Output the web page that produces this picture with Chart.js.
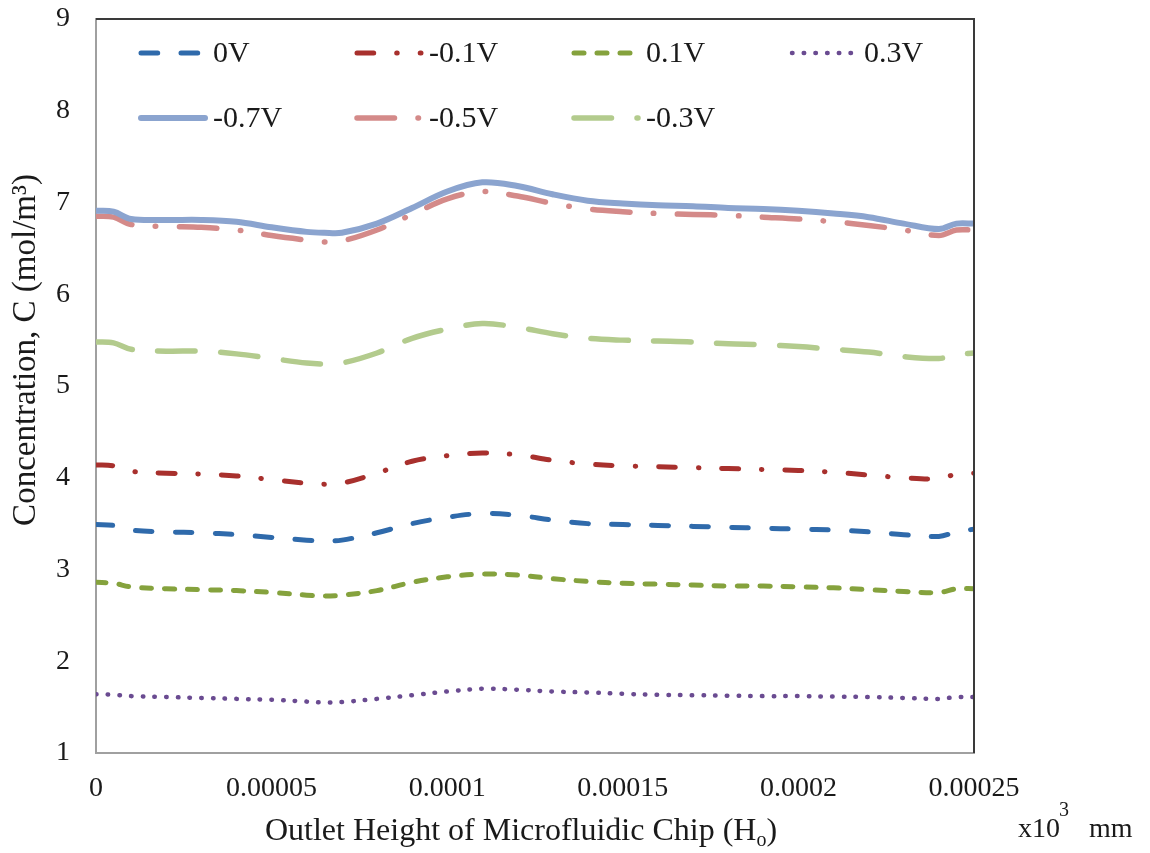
<!DOCTYPE html>
<html lang="en">
<head>
    <meta charset="UTF-8">
    <title>Concentration vs Outlet Height</title>
    <script src="https://cdn.jsdelivr.net/npm/chart.js"></script>
    <style>
        body { margin: 0; background: #fff; }
        canvas { display: block; }
    </style>
</head>
<body>
    <canvas id="chart" width="1150" height="853"></canvas>
    <script>
        // --- Data ---
        const xValues = [0, 0.000005, 0.00001, 0.00002, 0.00003, 0.00004, 0.00005, 0.00006, 0.000065, 0.00007,
            0.00008, 0.00009, 0.0001, 0.00011, 0.00012, 0.00013, 0.00014, 0.00015, 0.00016, 0.00017,
            0.00018, 0.00019, 0.0002, 0.00021, 0.00022, 0.00023, 0.00024, 0.000245, 0.00025];

        const v0 = [3.49, 3.48, 3.43, 3.41, 3.40, 3.38, 3.35, 3.32, 3.31, 3.32,
            3.40, 3.50, 3.57, 3.61, 3.59, 3.54, 3.50, 3.49, 3.48, 3.47,
            3.46, 3.45, 3.44, 3.43, 3.41, 3.38, 3.36, 3.41, 3.44];
        const vNeg01 = [4.14, 4.13, 4.07, 4.05, 4.04, 4.02, 3.98, 3.94, 3.93, 3.94,
            4.05, 4.18, 4.24, 4.27, 4.25, 4.19, 4.15, 4.13, 4.12, 4.11,
            4.10, 4.09, 4.08, 4.06, 4.03, 4.00, 3.99, 4.04, 4.05];
        const vPos01 = [2.86, 2.85, 2.81, 2.79, 2.78, 2.77, 2.75, 2.72, 2.71, 2.72,
            2.77, 2.86, 2.92, 2.95, 2.94, 2.90, 2.87, 2.85, 2.84, 2.83,
            2.82, 2.82, 2.81, 2.80, 2.78, 2.76, 2.75, 2.79, 2.79];
        const vPos03 = [1.64, 1.635, 1.62, 1.61, 1.60, 1.59, 1.58, 1.56, 1.55, 1.555,
            1.59, 1.63, 1.67, 1.70, 1.69, 1.67, 1.66, 1.645, 1.635, 1.63,
            1.625, 1.62, 1.62, 1.615, 1.61, 1.60, 1.59, 1.61, 1.61];
        const vNeg07 = [6.91, 6.90, 6.82, 6.81, 6.81, 6.79, 6.73, 6.68, 6.67, 6.67,
            6.77, 6.94, 7.12, 7.22, 7.18, 7.09, 7.02, 6.99, 6.97, 6.96,
            6.94, 6.93, 6.91, 6.88, 6.84, 6.77, 6.71, 6.77, 6.77];
        const vNeg05 = [6.85, 6.84, 6.76, 6.74, 6.73, 6.70, 6.64, 6.59, 6.57, 6.58,
            6.70, 6.87, 7.04, 7.12, 7.07, 6.99, 6.93, 6.90, 6.88, 6.87,
            6.86, 6.84, 6.82, 6.79, 6.75, 6.70, 6.64, 6.70, 6.70];
        const vNeg03 = [5.48, 5.47, 5.40, 5.38, 5.38, 5.35, 5.30, 5.25, 5.24, 5.25,
            5.36, 5.52, 5.62, 5.68, 5.64, 5.57, 5.52, 5.50, 5.49, 5.48,
            5.46, 5.45, 5.43, 5.40, 5.37, 5.32, 5.30, 5.34, 5.36];

        const xTickLabels = ['0', '0.00005', '0.0001', '0.00015', '0.0002', '0.00025'];
        const yTickLabels = ['1', '2', '3', '4', '5', '6', '7', '8', '9'];

        const FONT = "'Liberation Serif', 'Times New Roman', serif";
        const TEXT = '#1a1a1a';

        function pts(arr) {
            return xValues.map((x, i) => ({ x: x, y: arr[i] }));
        }

        function series(label, arr, color, width, dash) {
            return {
                label: label,
                data: pts(arr),
                borderColor: color,
                backgroundColor: color,
                borderWidth: width,
                borderDash: dash,
                borderCapStyle: 'round',
                borderJoinStyle: 'round',
                pointRadius: 0,
                tension: 0.35,
                fill: false
            };
        }

        // order matters for legend placement (row by row)
        const datasets = [
            series('0V', v0, '#2f6aab', 5, [16.7, 23.3]),
            series('-0.1V', vNeg01, '#a8302d', 5, [16.7, 23, 0.5, 23]),
            series('0.1V', vPos01, '#85a23d', 5, [10, 13]),
            series('0.3V', vPos03, '#6a4b91', 4.5, [0.5, 11.2]),
            series('-0.7V', vNeg07, '#8ba4cf', 6, []),
            series('-0.5V', vNeg05, '#d48a89', 5.5, [37.5, 23.5, 0.5, 23.5]),
            series('-0.3V', vNeg03, '#b3cb8d', 5.5, [37.5, 25.5])
        ];

        // --- Legend drawn in a fixed 4-column grid ---
        const legendCols = [138, 354, 571, 789];
        const legendRows = [53, 118];
        const legendPlugin = {
            id: 'gridLegend',
            afterDraw(chart) {
                const ctx = chart.ctx;
                chart.data.datasets.forEach((ds, i) => {
                    const x0 = legendCols[i % 4];
                    const y = legendRows[Math.floor(i / 4)];
                    ctx.save();
                    ctx.strokeStyle = ds.borderColor;
                    ctx.lineWidth = ds.borderWidth;
                    ctx.lineCap = 'round';
                    ctx.setLineDash(ds.borderDash);
                    ctx.beginPath();
                    ctx.moveTo(x0 + 3, y);
                    ctx.lineTo(x0 + 67, y);
                    ctx.stroke();
                    ctx.restore();
                    ctx.save();
                    ctx.fillStyle = TEXT;
                    ctx.font = '30px ' + FONT;
                    ctx.textBaseline = 'middle';
                    ctx.fillText(ds.label, x0 + 75, y + 1);
                    ctx.restore();
                });
            }
        };

        // --- Frame and axis titles ---
        const framePlugin = {
            id: 'frameAndTitles',
            afterDraw(chart) {
                const ctx = chart.ctx;
                const a = chart.chartArea;
                ctx.save();
                ctx.strokeStyle = '#3a3a3a';
                ctx.lineWidth = 2;
                ctx.beginPath();
                ctx.moveTo(a.left, a.top);
                ctx.lineTo(a.right, a.top);
                ctx.lineTo(a.right, a.bottom);
                ctx.stroke();
                ctx.restore();

                ctx.save();
                ctx.fillStyle = TEXT;
                ctx.textBaseline = 'alphabetic';
                // x title with subscript
                const main = 'Outlet Height of Microfluidic Chip (H';
                ctx.font = '32px ' + FONT;
                const wMain = ctx.measureText(main).width;
                ctx.font = '20px ' + FONT;
                const wSub = ctx.measureText('o').width;
                ctx.font = '32px ' + FONT;
                const wEnd = ctx.measureText(')').width;
                let x = 521 - (wMain + wSub + wEnd) / 2;
                ctx.fillText(main, x, 840);
                x += wMain;
                ctx.font = '20px ' + FONT;
                ctx.fillText('o', x, 846);
                x += wSub;
                ctx.font = '32px ' + FONT;
                ctx.fillText(')', x, 840);

                // unit note
                ctx.font = '28px ' + FONT;
                ctx.fillText('x10', 1018, 837);
                ctx.font = '20px ' + FONT;
                ctx.fillText('3', 1059, 816);
                ctx.font = '28px ' + FONT;
                ctx.fillText('mm', 1089, 837);

                // y title
                ctx.font = '33px ' + FONT;
                ctx.translate(26, 350);
                ctx.rotate(-Math.PI / 2);
                ctx.textAlign = 'center';
                ctx.textBaseline = 'middle';
                ctx.fillText('Concentration, C (mol/m\u00B3)', 0, 0);
                ctx.restore();
            }
        };

        new Chart(document.getElementById('chart').getContext('2d'), {
            type: 'line',
            data: { datasets: datasets },
            options: {
                responsive: false,
                animation: false,
                layout: { padding: { left: 0, top: 19, right: 176, bottom: 0 } },
                plugins: {
                    legend: { display: false },
                    tooltip: { enabled: false }
                },
                scales: {
                    x: {
                        type: 'linear',
                        min: 0,
                        max: 0.00025,
                        afterBuildTicks(scale) {
                            scale.ticks = xTickLabels.map(t => ({ value: parseFloat(t) }));
                        },
                        afterFit(scale) {
                            scale.height = 100;
                            scale.paddingLeft = 0;
                            scale.paddingRight = 0;
                        },
                        grid: { display: false, drawTicks: false },
                        border: { display: true, color: '#a0a0a0', width: 2 },
                        ticks: {
                            padding: 19,
                            color: TEXT,
                            font: { family: FONT, size: 28 },
                            maxRotation: 0,
                            callback: (v, i) => xTickLabels[i]
                        }
                    },
                    y: {
                        min: 1,
                        max: 9,
                        afterFit(scale) {
                            scale.width = 96;
                            scale.paddingTop = 0;
                            scale.paddingBottom = 0;
                        },
                        grid: { display: false, drawTicks: false },
                        border: { display: true, color: '#a0a0a0', width: 2 },
                        ticks: {
                            stepSize: 1,
                            padding: 26,
                            color: TEXT,
                            font: { family: FONT, size: 28 },
                            callback: (v, i) => yTickLabels[i]
                        }
                    }
                }
            },
            plugins: [legendPlugin, framePlugin]
        });
    </script>
</body>
</html>
